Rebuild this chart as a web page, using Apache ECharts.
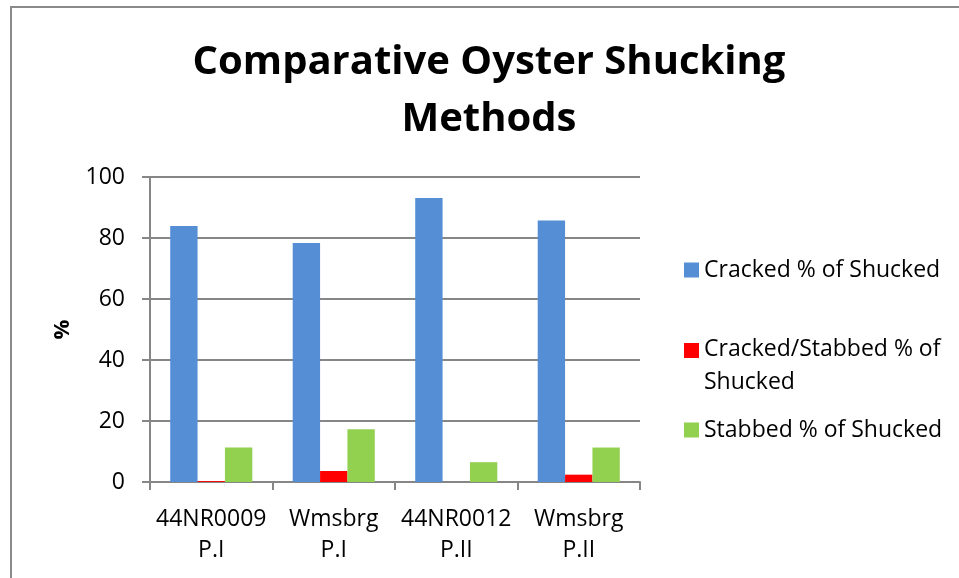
<!DOCTYPE html>
<html>
<head>
<meta charset="utf-8">
<script src="https://cdn.jsdelivr.net/npm/echarts@6/dist/echarts.min.js"></script>
<style>
html,body{margin:0;padding:0;background:#fff;}
#chart{width:959px;height:578px;}
</style>
</head>
<body>
<div id="chart"></div>
<script>
const categories = ['44NR0009\nP.I', 'Wmsbrg\nP.I', '44NR0012\nP.II', 'Wmsbrg\nP.II'];
const seriesNames = ['Cracked % of Shucked', 'Cracked/Stabbed % of Shucked', 'Stabbed % of Shucked'];
const cracked = [83.9, 78.4, 93.1, 85.7];
const crackedStabbed = [0.3, 3.6, 0, 2.4];
const stabbed = [11.3, 17.3, 6.5, 11.3];
const yTicks = [0, 20, 40, 60, 80, 100];

const font = '"Open Sans", "Noto Sans", sans-serif';
const colors = ['#558ED5', '#FF0000', '#92D050'];
const values = [cracked, crackedStabbed, stabbed];

const chart = echarts.init(document.getElementById('chart'));

function legendFor(i, top, opts) {
  return Object.assign({
    data: [seriesNames[i]],
    orient: 'vertical',
    left: 684,
    top: top,
    padding: 0,
    itemWidth: 15,
    itemHeight: 15,
    icon: 'rect',
    textStyle: { fontFamily: font, fontSize: 23, color: '#000', lineHeight: 30 }
  }, opts || {});
}

chart.setOption({
  animation: false,
  textStyle: { fontFamily: font },
  graphic: [{
    type: 'rect',
    shape: { x: 11, y: 7, width: 1200, height: 1000 },
    style: { fill: 'none', stroke: '#8a8a8a', lineWidth: 2 },
    silent: true, z: -1
  }],
  title: {
    text: 'Comparative Oyster Shucking\nMethods',
    left: 489,
    top: 34,
    padding: 0,
    textAlign: 'center',
    textStyle: { fontFamily: font, fontSize: 40, fontWeight: 'bold', color: '#000', lineHeight: 57 }
  },
  legend: [
    legendFor(0, 255),
    legendFor(1, 333, {
      itemHeight: 46,
      icon: 'path://M0,0h10v10h-10zM0,30.67h0.01',
      formatter: function () { return 'Cracked/Stabbed % of\nShucked'; },
      textStyle: { fontFamily: font, fontSize: 23, color: '#000', lineHeight: 33 }
    }),
    legendFor(2, 415)
  ],
  grid: { left: 150, right: 319, top: 177, bottom: 96, containLabel: false },
  xAxis: {
    type: 'category',
    data: categories,
    axisLine: { lineStyle: { color: '#868686', width: 2 } },
    axisTick: { show: true, length: 8, lineStyle: { color: '#868686', width: 2 } },
    axisLabel: { color: '#000', fontFamily: font, fontSize: 23, lineHeight: 31, margin: 22, interval: 0 }
  },
  yAxis: {
    type: 'value',
    min: 0, max: 100, interval: 20,
    name: '%',
    nameLocation: 'middle',
    nameGap: 76,
    nameRotate: 90,
    nameTextStyle: { fontFamily: font, fontSize: 22, fontWeight: 'bold', color: '#000' },
    axisLine: { show: true, lineStyle: { color: '#868686', width: 2 } },
    axisTick: { show: true, length: 8, lineStyle: { color: '#868686', width: 2 } },
    splitLine: { lineStyle: { color: '#868686', width: 2 } },
    axisLabel: {
      color: '#000', fontFamily: font, fontSize: 23, margin: 25,
      formatter: function (v) { return yTicks.indexOf(v) >= 0 ? String(v) : ''; }
    }
  },
  series: seriesNames.map(function (name, i) {
    return {
      name: name,
      type: 'bar',
      data: values[i],
      barGap: '0%',
      barCategoryGap: '33%',
      itemStyle: { color: colors[i] }
    };
  })
});
</script>
</body>
</html>
